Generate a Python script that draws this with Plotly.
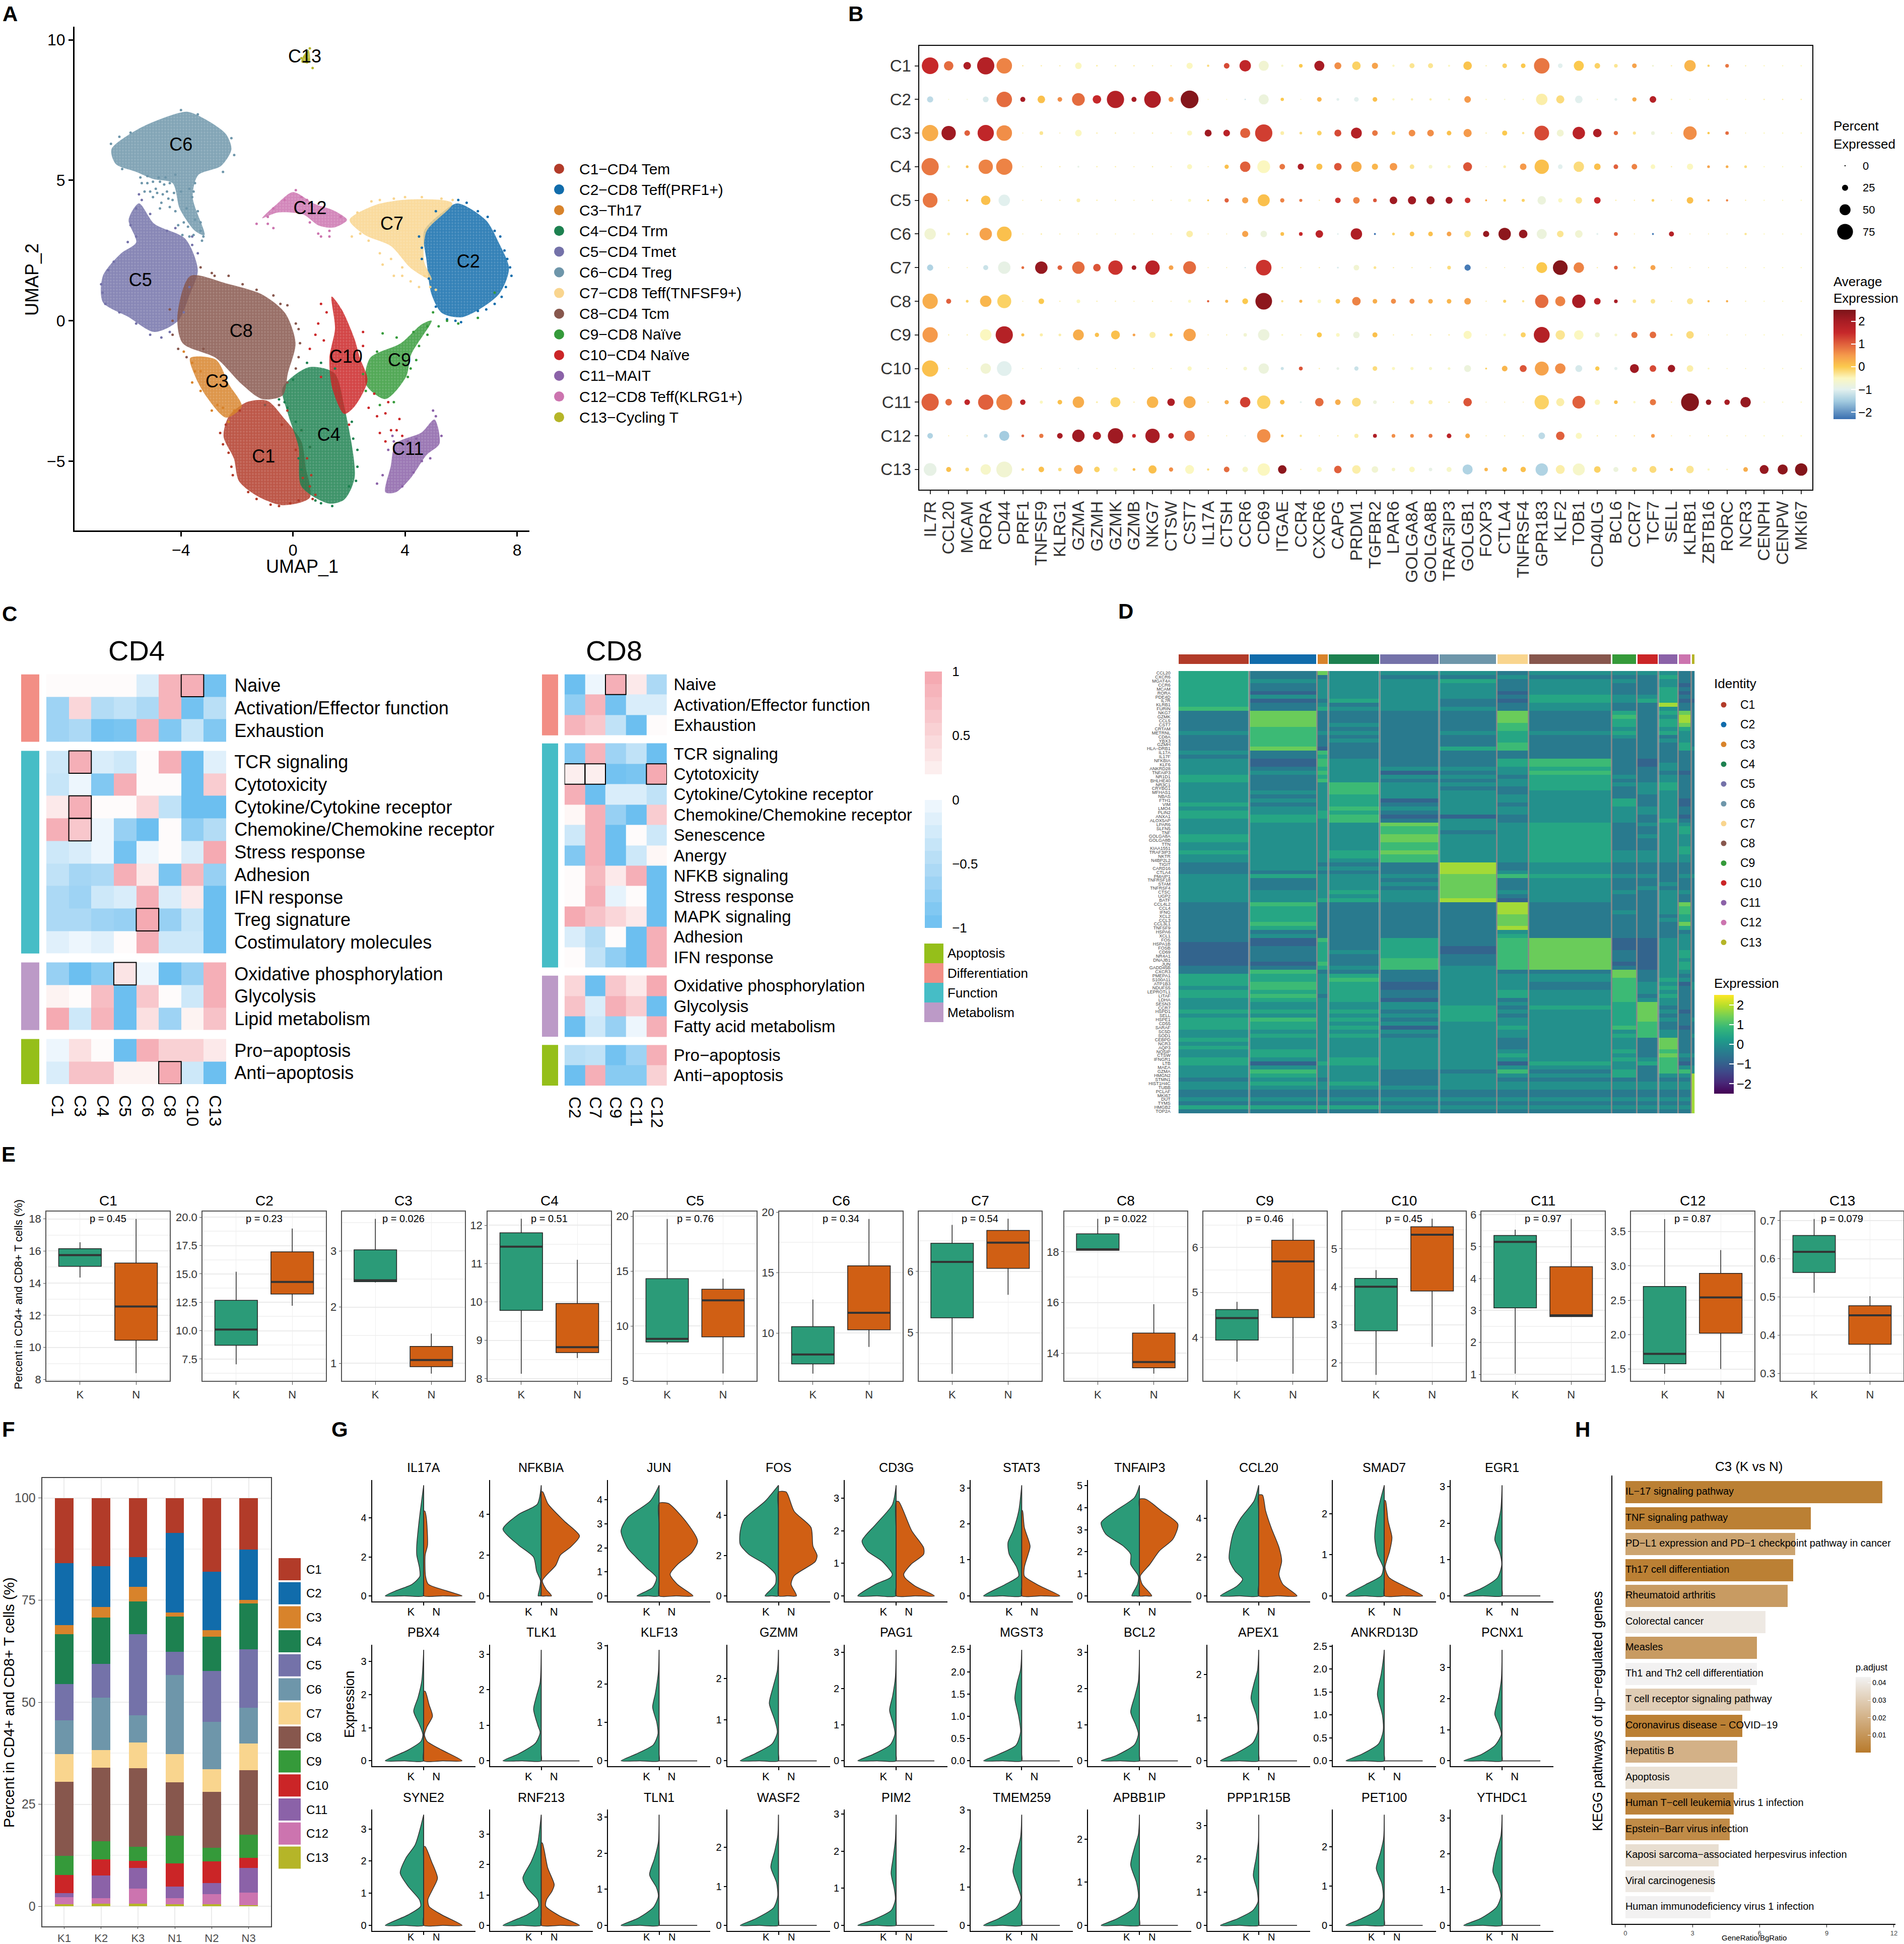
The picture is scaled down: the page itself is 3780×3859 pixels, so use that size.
import plotly.graph_objects as go
import numpy as np

W, H = 3780, 3859
FONT = "Liberation Sans"

# ---------- shared ----------
CLUSTERS = ["C%d" % i for i in range(1, 14)]
CL_COLORS = ["#B23B29", "#116CAB", "#D8832B", "#1D8150", "#7472A9", "#6E96AA", "#F9D58E",
             "#87574D", "#359A3A", "#CB2527", "#8B62A8", "#CC74AF", "#B5B528"]
CL_NAMES = ["C1−CD4 Tem", "C2−CD8 Teff(PRF1+)", "C3−Th17", "C4−CD4 Trm", "C5−CD4 Tmet", "C6−CD4 Treg",
            "C7−CD8 Teff(TNFSF9+)", "C8−CD4 Tcm", "C9−CD8 Naïve", "C10−CD4 Naïve", "C11−MAIT",
            "C12−CD8 Teff(KLRG1+)", "C13−Cycling T"]

# ---------- A : UMAP ----------
UMAP_OUTLINES = {
 "C6": [(-6.48,6.11),(-5.5,6.84),(-4.4,7.3),(-3.76,7.44),(-3.12,7.17),(-2.39,6.64),(-2.2,6.1),(-2.57,5.51),(-3.39,5.18),(-3.58,4.38),(-3.16,3.05),(-3.49,3.19),(-4.04,3.98),(-4.3,4.9),(-5.0,5.05),(-5.6,5.3),(-6.33,5.58)],
 "C5": [(-6.79,1.59),(-6.15,2.39),(-5.6,2.79),(-5.87,3.59),(-5.5,4.18),(-4.95,3.45),(-3.85,2.92),(-3.4,1.8),(-3.7,.9),(-4.1,0),(-4.95,-.4),(-5.87,.13),(-6.79,.66)],
 "C8": [(-3.67,1.59),(-2.39,1.33),(-1.1,.93),(-.28,.27),(.09,-.8),(-.18,-1.86),(-.37,-2.66),(-1.1,-2.79),(-1.83,-2.26),(-2.75,-1.33),(-3.94,-.8),(-4.13,.13)],
 "C3": [(-3.67,-1.33),(-2.75,-1.39),(-2.29,-2.26),(-1.83,-3.05),(-2.39,-3.45),(-3.12,-2.66),(-3.49,-1.99)],
 "C1": [(-2.29,-3.4),(-1.65,-2.9),(-.92,-2.85),(-.3,-3.5),(.3,-4.3),(.45,-5.2),(.6,-6.3),(-.37,-6.57),(-1.28,-6.24),(-1.93,-5.71),(-2.11,-4.91),(-2.48,-4.12)],
 "C4": [(-.37,-2.39),(.55,-1.66),(1.47,-1.86),(1.83,-3.05),(2.2,-5.58),(1.83,-6.37),(1.28,-6.51),(.3,-5.9),(.2,-4.5),(-.18,-3.32)],
 "C10": [(1.38,.86),(1.74,.4),(2.2,-.66),(2.39,-1.33),(2.66,-2.12),(2.2,-3.05),(1.83,-3.32),(1.4,-2.4),(1.3,-1.33),(1.5,-.27)],
 "C9": [(4.95,0),(4.22,-1.2),(4.04,-1.99),(3.3,-2.79),(2.6,-2.26),(2.75,-1.33),(3.85,-.8),(4.59,-.13)],
 "C11": [(5.05,-3.52),(5.23,-4.38),(4.77,-4.78),(4.22,-5.58),(3.67,-6.11),(3.3,-6.11),(3.49,-5.18),(3.67,-4.38),(4.59,-3.98)],
 "C7": [(2.02,3.59),(2.94,4.12),(4.22,4.32),(5.69,4.18),(4.77,3.19),(4.68,2.12),(4.95,1.46),(4.22,1.86),(3.49,2.66),(2.57,3.05)],
 "C2": [(5.87,4.18),(6.88,3.59),(7.34,2.79),(7.71,1.86),(7.34,.93),(6.06,.13),(5.32,.27),(4.95,.93),(4.77,2.12),(4.68,3.19),(5.32,3.85)],
 "C12": [(-1.1,3.65),(-.55,4.18),(0,4.58),(.73,4.18),(1.47,3.92),(1.93,3.59),(1.47,3.32),(.92,3.39),(.37,3.78),(-.55,3.85)],
 "C13": [(.3,9.2),(.38,9.45),(.55,9.65),(.6,9.2)],
}
UMAP_POINTS = {
 "C1": [(-.4,-3.7),(.1,-4.6),(.35,-5.6),(.6,-5.9),(-2.6,-4.0),(-2.2,-5.2),(-1.6,-6.1),(-.8,-6.55),(.2,-6.4),(.8,-6.2),(.5,-4.9),(-1.9,-3.2),(-2.5,-4.4),(-2.3,-4.7),(-2.15,-5.5),(-1.3,-6.35),(-.5,-6.6),(-.1,-6.5),(.7,-6.35),(.65,-5.5),(.6,-4.5),(.3,-3.9),(-2.4,-3.7),(-.2,-3.2)],
 "C2": [(5.9,4.3),(6.6,3.9),(7.2,3.2),(7.55,2.5),(7.75,1.9),(7.6,1.2),(7.2,.6),(6.6,.35),(6,-.05),(5.5,.05),(4.6,2.6),(4.5,3.0),(5.1,3.9),(6.2,4.2),(6.95,3.7),(7.4,3.0),(7.8,1.6),(7.45,.85),(6.9,.4),(5.8,.0),(5.1,.5),(4.85,1.5),(4.6,2.2),(7.65,2.2)],
 "C3": [(-3.9,-1.1),(-3.6,-1.5),(-3.3,-1.8),(-2.5,-3.1),(-2.3,-3.6),(-2.7,-3.0),(-3.3,-2.5),(-3.6,-2.2),(-3.5,-1.8),(-2.9,-3.2),(-2.1,-3.2)],
 "C4": [(.0,-2.1),(-.3,-2.9),(.1,-3.6),(.5,-1.5),(1.0,-1.5),(-.2,-3.1),(.3,-5.3),(.8,-6.4),(2.3,-5.2),(2.3,-4.6),(2.1,-3.6),(.6,-4.5),(.3,-3.9),(2.0,-5.9),(-.5,-2.8),(1.5,-1.7),(2.25,-5.7),(1.4,-6.6),(1.0,-6.5),(2.15,-4.2),(.2,-4.9)],
 "C5": [(-5.5,4.5),(-5.6,4.0),(-5.1,3.8),(-4.5,3.2),(-3.6,2.7),(-3.4,2.4),(-3.7,1.2),(-6.8,1.0),(-6.4,2.1),(-5.1,-.5),(-4.7,-.6),(-4.4,-.4),(-5.6,3.0),(-3.6,3.0),(-5.4,4.3),(-5.8,3.4),(-5.9,2.8),(-6.6,1.8),(-6.85,1.3),(-6.7,.6),(-6.2,.3),(-5.6,-.1),(-3.9,.3),(-4.2,3.3)],
 "C6": [(-5.1,4.6),(-4.8,5.1),(-4.2,5.2),(-4,4.6),(-3.8,4),(-3.5,3.6),(-3.3,3.2),(-3.2,3),(-5.4,4.9),(-4.7,4.2),(-4.4,4.9),(-3.6,4.4),(-3.3,3.5),(-4.9,4.7),(-4.5,4.6),(-5.2,4.9),(-4.6,4.85),(-4.3,4.3),(-5.0,4.4),(-5.3,4.6),(-4.1,3.4),(-3.9,3.5),(-3.7,3.0),(-6.5,6.3),(-6.2,6.55),(-5.8,6.7),(-2.2,6.5),(-2.1,5.9),(-2.5,5.3),(-4.0,7.5),(-3.4,7.35),(-6.1,5.4),
        (-5.45,5.1),(-5.2,5.15),(-5.0,4.95),(-4.75,4.95),(-4.55,5.1),(-4.85,4.55),(-4.65,4.5),(-4.45,4.35),(-4.25,4.55),(-4.2,3.9),(-4.4,4.05),(-4.75,4.0),(-3.95,3.05),(-3.75,3.35),(-3.55,3.05),(-3.7,4.7),(-3.5,4.9),(-3.55,4.6),(-3.4,3.9),(-3.25,2.85)],
 "C7": [(2.3,3.85),(2.8,4.25),(3.6,4.35),(4.6,4.4),(5.3,4.35),(5.7,4.3),(2.1,3.0),(2.7,2.85),(3.1,2.4),(3.6,1.6),(3.9,1.6),(4.5,1.2),(4.9,1.2),(5.1,1.1),(3.2,2.0),(3.5,2.2),(3.9,1.9),(4.2,1.4),(2.4,3.1),(4.0,4.4),(3.1,4.3),(4.7,1.6)],
 "C8": [(-3.3,1.9),(-2.9,1.7),(-2.3,1.6),(-1.8,1.3),(-.7,.9),(-.2,.55),(.2,-.3),(.2,-1.3),(-4.3,-.5),(-4.1,-1.0),(-3.8,-1.3),(-.2,-2.2),(-.5,-3.0),(-1.0,-3.0),(-4.4,.4),(-2.8,1.6),(-1.3,1.1),(-.45,.6),(.1,-.1),(.25,-.8),(.1,-1.7),(-3.2,-1.0),(-4.3,.0)],
 "C9": [(5.0,.3),(5.5,.0),(4.8,-.5),(3.2,-.45),(4.5,-.9),(4.8,-.2),(4.1,-2.0),(3.6,-2.9),(2.5,-1.9),(2.6,-2.5),(3.1,-3.0),(5.9,-.1),(6.6,.1),(7.2,1.0),(4.3,-.4),(3.7,-.6),(4.4,-1.4),(4.2,-1.7),(3.0,-1.1),(5.2,-.2)],
 "C10": [(1.0,.6),(.9,-.1),(.6,-1.0),(1.0,-2.0),(.8,-.5),(2.5,-.9),(2.9,-2.6),(3.3,-3.3),(3.5,-3.9),(3.1,-4.0),(3.8,-3.5),(3.4,-2.9),(2.7,-3.1),(2.0,-3.7),(1.2,.3),(1.1,-.7),(2.5,-.4),(3.0,-3.4),(3.3,-4.3),(3.7,-3.9),(3.9,-4.1)],
 "C11": [(5.1,-3.4),(5.3,-4.1),(4.9,-4.9),(4.4,-4.2),(3.0,-5.8),(3.2,-5.5),(3.6,-4.3),(4.1,-4.3),(3.4,-4.6),(3.55,-4.1),(4.6,-5.0),(4.3,-5.4),(3.9,-5.9),(5.0,-3.2)],
 "C12": [(-1.3,3.45),(-.9,3.7),(-.3,4.3),(.1,4.65),(.3,4.4),(1.0,3.0),(1.3,3.0),(.9,3.1),(-.7,3.3),(-.9,3.45),(-.7,4.0),(.5,4.3),(1.1,4.05),(1.7,3.7),(1.3,3.2),(.6,3.5)],
 "C13": [(.4,9.4),(.5,9.55),(.6,9.7),(.7,9.0),(.35,9.25),(.55,9.3),(.45,9.45),(.3,9.35),(.5,9.2)],
}
UMAP_LABELS = {"C6":(-4.0,6.21),"C5":(-5.45,1.39),"C8":(-1.85,-.42),"C3":(-2.71,-2.22),"C1":(-1.05,-4.88),"C4":(1.28,-4.12),
               "C10":(1.89,-1.33),"C9":(3.8,-1.46),"C11":(4.1,-4.62),"C2":(6.26,2.06),"C7":(3.53,3.4),"C12":(.61,3.96),"C13":(.42,9.36)}

# ---------- B : dot plot ----------
B_GENES = ["IL7R","CCL20","MCAM","RORA","CD44","PRF1","TNFSF9","KLRG1","GZMA","GZMH","GZMK","GZMB","NKG7","CTSW","CST7","IL17A","CTSH","CCR6","CD69","ITGAE","CCR4","CXCR6","CAPG","PRDM1","TGFBR2","LPAR6","GOLGA8A","GOLGA8B","TRAF3IP3","GOLGB1","FOXP3","CTLA4","TNFRSF4","GPR183","KLF2","TOB1","CD40LG","BCL6","CCR7","TCF7","SELL","KLRB1","ZBTB16","RORC","NCR3","CENPH","CENPW","MKI67"]
B_PCT = [
 [82,45,35,85,76, 3,3,3,30,5, 4,4,3,3,28, 8,25,55,48,8, 15,48,32,40,28, 8,22,22,7,40, 3,20,20,76,20, 48,25,15,20,6, 3,55,8,15,3, 3,3,3],
 [28,2,2,26,76, 22,35,20,62,40, 85,22,82,22,88, 2,2,3,48,13, 2,20,10,20,20, 8,8,8,6,30, 3,3,3,55,38, 35,3,10,18,30, 4,2,2,2,2, 3,3,3],
 [80,70,25,80,76, 2,15,2,30,3, 3,2,3,2,22, 32,30,48,85,15, 10,20,32,52,25, 15,30,30,20,38, 3,22,8,72,32, 60,40,18,12,15, 3,65,8,14,2, 3,3,3],
 [85,10,10,70,80, 2,3,3,6,3, 3,2,3,2,22, 2,18,50,62,25, 28,28,35,50,28, 35,20,15,12,42, 2,10,30,70,20, 50,30,20,25,20, 3,28,10,10,10, 3,3,3],
 [72,5,8,45,55, 2,3,3,15,3, 3,2,3,2,12, 6,18,28,58,18, 12,3,25,30,15, 35,38,38,32,25, 6,10,12,40,18, 30,30,3,3,10, 2,30,8,8,3, 3,3,3],
 [55,10,8,60,72, 2,4,3,2,2, 2,2,2,2,30, 2,2,28,30,15, 15,35,5,55,6, 10,20,20,20,30, 28,60,40,48,30, 35,6,16,2,6, 22,2,2,2,8, 3,3,3],
 [28,2,2,22,60, 10,60,20,60,35, 70,20,70,20,62, 2,2,3,76,4, 3,3,5,25,10, 3,3,3,15,28, 2,2,2,52,72, 50,3,15,8,22, 3,2,2,2,2, 3,3,3],
 [75,22,10,55,68, 2,25,3,15,3, 3,2,3,2,12, 8,12,26,82,8, 12,15,20,40,20, 22,22,20,20,30, 3,12,8,65,48, 65,30,15,14,20, 3,28,8,8,3, 3,3,3],
 [75,3,3,55,85, 12,12,10,52,18, 42,10,28,12,60, 2,3,14,55,6, 3,22,15,30,22, 3,4,4,4,38, 2,10,22,78,45, 45,22,10,28,30, 8,35,2,2,2, 3,3,3],
 [80,3,2,50,72, 2,2,2,3,2, 2,2,2,2,18, 2,2,15,50,12, 16,3,10,18,20, 12,12,12,10,32, 6,25,32,68,50, 32,18,12,42,30, 34,30,6,2,2, 2,3,3],
 [85,30,25,75,78, 24,12,20,55,6, 48,3,55,35,58, 3,18,50,65,20, 6,40,25,42,15, 3,18,18,4,40, 2,2,2,70,38, 62,24,15,8,28, 3,88,24,24,50, 3,3,3],
 [25,2,2,15,48, 10,18,25,60,38, 75,15,70,25,50, 2,2,3,65,10, 8,2,3,18,16, 15,15,16,20,20, 2,3,3,30,40, 28,3,3,3,15, 2,2,2,2,2, 3,3,3],
 [62,22,15,50,78, 10,25,14,42,25, 18,10,38,18,42, 8,25,25,60,40, 3,22,35,40,30, 14,25,14,22,48, 14,20,24,60,42, 58,30,22,22,32, 12,35,8,3,20, 42,48,60],
]
B_EXP = [
 [1.5,.9,1.9,1.8,.7, -.3,-.4,-.4,-.5,-.4, -.4,-.4,-.4,-.4,-.5, -.2,1.2,1.6,-.7,-.6, 0,2,.6,-.1,.4, -.5,-.3,-.3,-.5,.05, -.4,-.1,0,.8,-1, 0,-.1,-.3,.4,-.7, -.4,.2,-.1,.8,-.4, -.5,-.5,-.5],
 [-1.3,-.6,-.6,-1.1,.9, 2,.1,.6,.9,1.5, 1.8,2,1.9,.5,2.4, -.5,-.5,-1.2,-.8,0, -.5,.2,-1,-1,.1, -.5,-.4,-.4,-.6,.5, -.5,-.6,-.5,-.4,-.2, -1,-.5,-1,.3,1.8, -.4,-.5,-.5,-.5,-.5, -.4,-.4,-.4],
 [.3,2.1,1,1.6,.6, -.4,-.3,-.4,-.5,-.4, -.4,-.4,-.4,-.4,-.5, 2.1,1.7,1,1.3,-.4, -.2,-.1,1.2,1.8,.8, -.1,.6,.6,.1,.5, -.4,0,-.3,1.2,-.7, 1.7,1.9,.9,-.3,-.8, -.4,.6,0,.9,-.4, -.5,-.5,-.5],
 [.8,-.5,.1,.7,.7, -.4,-.4,-.4,-.9,-.4, -.4,-.4,-.4,-.4,-.5, -.4,.1,1,-.5,.8, 1.9,.1,1.1,.3,.2, .5,-.3,-.6,-.5,1.1, -.4,-.4,.5,.1,-1, -.2,.1,1,.7,-.5, -.4,-.5,.4,.3,-.2, -.5,-.5,-.5],
 [.8,-.4,.1,.1,-1, -.4,-.4,-.4,-.4,-.4, -.4,-.4,-.4,-.4,-.5, 0,1,.4,.1,.7, .8,-.4,1.4,.7,1.1, 2.1,2.1,2.2,2.1,1.4, .2,-.1,-.1,-.8,-.5, -.3,1.5,-.4,-.4,-.1, -.4,.1,.3,.7,-.4, -.5,-.5,-.5],
 [-.7,-.4,-.2,.4,.1, -.4,-.4,-.4,-.4,-.4, -.4,-.4,-.4,-.4,-.4, -.4,-.4,.4,-.8,.1, 1.5,1.7,-1,1.9,-2.3, -.1,.1,.1,.4,-.3, 2.2,2.3,2.2,-.8,-.3, -.7,-1,1,-.4,-2.2, 1.8,-.4,-.4,-.4,-.3, -.5,-.5,-.5],
 [-1.4,-.4,-.4,-1.2,-.9, .9,2.2,1,.9,1.1, 1.4,2,1.7,.4,.9, -.4,-.4,-1.2,1.4,-.4, -.4,-.4,-1.1,-.7,-.3, -.4,-.4,-.4,-.2,-2.2, -.4,-.4,-.4,0,2.4, .7,-.4,1,-.3,.4, -.4,-.4,-.4,-.4,-.4, -.5,-.5,-.5],
 [.3,1,-.1,.2,-.1, -.4,0,-.4,-.5,-.4, -.4,-.4,-.4,-.4,-.5, 1,.2,0,2.3,-.3, .2,-.5,.1,.7,.3, .6,.6,.3,.2,.4, -.4,-.1,-.3,.9,.7, 2,1.7,2,-.3,-.3, -.4,-.3,.2,.3,-.4, -.5,-.5,-.5],
 [.5,-.4,-.4,-.5,1.8, .1,-.4,-.4,.3,.1, .1,.4,-.4,0,.4, -.4,-.4,-.7,-.8,-.5, -.4,0,-.5,-.8,.1, -.4,-.4,-.4,-.4,-.5, -.4,-.5,-.1,1.8,-.3, -.5,-.7,-.6,.8,.9, -.3,-.2,-.4,-.4,-.4, -.5,-.5,-.5],
 [.1,-.4,-.4,-.7,-1, -.4,-.4,-.4,-1,-.4, -.4,-.4,-.4,-.4,-.5, -.4,-.4,-.6,-.8,-1.2, 1.1,-.4,-.9,-1.2,-.2, -.5,-.5,-.6,-.6,-.8, -.1,.2,1.1,.4,.6, -1.1,0,-1,2.1,1.2, 2.1,-.4,-.5,-.4,-.4, -.5,-.5,-.5],
 [1,.9,1.6,1,.7, 1.7,-.5,.1,.3,-.4, -.1,-.4,.2,1.9,.3, -.4,.3,1.3,-.1,.1, -1,.9,.3,-.2,-.8, -.4,-.4,-.4,-.4,1.1, -.4,-.4,-.4,-.1,-.4, 1,-.5,.1,-.5,.8, -.4,2.4,2.2,2,2.2, -.5,-.5,-.5],
 [-1.4,-.4,-.4,-1.3,-1.5, 1,.8,2,2.1,1.9, 2.1,1.5,2,1.8,.9, -.4,-.4,-1,.6,.1, -.3,-.4,-.4,-.4,1.9, .6,.6,.8,1.7,.3, -.4,-.4,-.4,-1.3,1, -.5,-.4,-.4,-.4,.5, -.4,-.4,-.4,-.4,-.4, -.5,-.5,-.5],
 [-.9,.1,-.2,-.6,-.7, -.2,.1,-.2,.4,-.1, -.5,.1,.1,.6,-.5, -.2,.9,-.6,-.5,2.3, -.4,-.5,1,-.4,-.7, -.6,-.5,-.9,-.6,-1.4, .2,.1,.1,-1.4,-.4, -.6,-.1,-.8,-.3,-.2, .1,-.3,-.5,-.4,.3, 2.2,2.3,2.4],
]
B_LEGEND_PCT = [0, 25, 50, 75]
B_STOPS = [(-2.3,"#3a6fb0"),(-1.5,"#a4cce0"),(-1,"#e2f0ee"),(-.5,"#fbf7c0"),(0,"#fbc94e"),(.5,"#f59a4b"),(1,"#e0603c"),(1.5,"#c6282a"),(2,"#a81c24"),(2.5,"#7b1419")]

# ---------- C : pathway heat maps ----------
CD4_COLS = ["C1","C3","C4","C5","C6","C8","C10","C13"]
CD4_ROWS = ["Naive","Activation/Effector function","Exhaustion","TCR signaling","Cytotoxicity","Cytokine/Cytokine receptor","Chemokine/Chemokine receptor","Stress response","Adhesion","IFN response","Treg signature","Costimulatory molecules","Oxidative phosphorylation","Glycolysis","Lipid metabolism","Pro−apoptosis","Anti−apoptosis"]
CD4_GROUP_SIZES = [3, 9, 3, 2]
CD4_Z = [[.1,.1,.1,.1,-.2,.85,.9,-.95],[-.65,.5,-.5,-.4,-.55,.85,-.95,-.45],[-.65,-.55,-.95,-.9,.9,-.85,-.35,-.85],
 [-.3,.9,-.2,-.3,.1,.9,-1,-.15],[-.35,-.05,-.85,.9,.1,.1,-1,.6],[.3,.9,.1,.1,.5,-.4,-1,-1],[.9,.65,-.05,-.7,-1,.1,-.75,-.5],
 [-.3,-.2,-.05,-.95,-.05,.1,-.2,.95],[-.4,-.6,-.55,.9,.3,-.9,.8,-.7],[-.55,-.65,-.3,-.2,.9,-.2,.3,-1],[-.55,-.55,-.65,-.7,.95,-.7,-.35,-1],
 [-.15,-.05,-.15,.1,.9,-.3,-.3,-1],[-.7,-1,-.8,.35,-.05,-1,-.7,.9],[.2,.1,.75,-1,.65,.1,-.3,.9],[.95,-.3,.85,-1,.4,-.65,.2,.7],
 [-.05,.4,.1,-1,.9,.55,.55,.3],[-.2,.7,.7,.2,.2,.95,-.3,-1]]
CD4_BOXES = [(0,6),(3,1),(5,1),(6,1),(10,4),(12,3),(16,5)]
CD8_COLS = ["C2","C7","C9","C11","C12"]
CD8_ROWS = ["Naive","Activation/Effector function","Exhaustion","TCR signaling","Cytotoxicity","Cytokine/Cytokine receptor","Chemokine/Chemokine receptor","Senescence","Anergy","NFKB signaling","Stress response","MAPK signaling","Adhesion","IFN response","Oxidative phosphorylation","Glycolysis","Fatty acid metabolism","Pro−apoptosis","Anti−apoptosis"]
CD8_GROUP_SIZES = [3, 11, 3, 2]
CD8_Z = [[-1,-.05,.9,.3,-.55],[-.75,.85,-.95,-.2,-.2],[.85,.65,-.4,-1,.1],[-.85,.85,-.65,-.4,-1],[.25,.25,-.95,-.9,.95],[.9,-1,-.2,-.2,-.4],
 [.15,.9,-.7,-1,.6],[-.3,.9,-1,.1,-.3],[-.85,.9,-1,-.3,.15],[.1,.8,.3,.9,-1],[.1,.9,-.1,.1,-1],[.95,.7,.5,.3,-1],[-.2,-.5,.1,-1,.9],[.1,-.4,-.75,-1,.9],
 [.5,-1,.65,.3,.95],[.7,-.2,.9,.6,-1],[-1,-.3,-.7,-.05,.9],[-.45,-.4,-.95,-.65,.9],[-1,.9,-.8,-.8,.55]]
CD8_BOXES = [(0,2),(4,0),(4,1),(4,4)]
GROUP_NAMES = ["Apoptosis","Differentiation","Function","Metabolism"]
GROUP_SWATCH = ["#95BF1A","#F28E85","#46BDC6","#BC9AC7"]
SIDE_COLORS = ["#F28E85","#46BDC6","#BC9AC7","#95BF1A"]
C_SCALE = [[0,"#6cbff0"],[.25,"#b3dcf5"],[.5,"#f3f9fe"],[.525,"#ffffff"],[.6,"#fdf3f2"],[1,"#f4a5ae"]]
C_LEGEND_VALUES = [.95,.85,.75,.65,.55,.45,.35,.25,None,None,-.05,-.15,-.25,-.35,-.45,-.55,-.65,-.75,-.85,-.95]

# ---------- D : expression heat map ----------
D_CELLS = [168,159,24,120,139,135,73,196,57,48,45,28,7]
D_GENES = ["CCL20","CXCR6","MGAT4A","CCR6","MCAM","RORA","PDE4D","IL7R","KLRB1","FURIN","NKG7","GZMK","CCL5","CST7","CRTAM","METRNL","CD8A","YBX3","GZMH","HLA−DRB1",
 "IL17A","IL17F","NFKBIA","KLF6","ANKRD28","TNFAIP3","NR1D1","BHLHE40","NR3C1","CRYBG1","MFHAS1","NBAS","FTH1","VIM","LMO4","PLIN2","ANXA1","ALOX5AP",
 "LPAR6","SLFN5","TNF","GOLGA8A","GOLGA8B","TTN","KIAA1551","TRAF3IP3","NKTR","N4BP2L2","TIGIT","CARD16","CTLA4","PMAIP1","TNFRSF18","STAM","TNFRSF4","CTSC","UGP2","BATF",
 "CCL4L2","CCL4","IFNG","XCL2","CCL3","CCL3L1","TNFSF9","HSPA6","XCL1","FOS","HSPA1B","FOSB","CD69","NR4A1","DNAJB1","JUN","GADD45B",
 "CXCR3","PMEPA1","S100A11","ATP1B3","NDUFS5","LEPROTL1","LITAF","LDHA","SESN3","CCR7","HSPD1","SELL","HSPE1","CD55","SARAF","SC5D","SOD1",
 "CEBPD","NCR3","AQP3","NOSIP","CTSW","IFNGR1","LTB","MAEA","GZMA","HMGN2","STMN1","HIST1H4C","TUBB","PCLAF","MKI67","DUT","TYMS","HMGB2","TOP2A"]
# one digit per cluster: level 0..9 means expression -2.25 + 0.45*level
D_LEVELS = """6485554555544 6445445444644 6555564554544 6455554544534 6455554544644 6355553544634 6555554655644 6346543656633 6454544544944 7465554544544
4844448464684 4844448474594 4844448464694 4845447464684 4744447454564 5755456564654 4744446454454 4745446444554 4744447444464 4834467444465
5474444444444 4464444444444 5375446743444 5375446743544 5465555644544 5575345744434 6465554654544 6475445644544
5457555655644 5457544645644 5557554545544 5456555544544 5556355564534 6456454564534 5557555555544 6566455555544 6667334554534 5657454554644
5555855645554 5555755644564 5555745644564 6555855645554 6555855644554 5555755644554 5555755644564 6556855655564 5556755655554 5555755655554
4544494544444 4555494544444 4444495544444 5655587655455 5455484544444 5455584544544 5455484545444 5556585554554 5555584544544 5566593544544
4744449444584 4644449444574 4644449454574 4644448444464 4644448444564 4744448444484 4644449444464 4444445444444 4544446444454
4374647833554 3364647833554 3464637833554 3465637843564 3464647843564 3464747843554 3374747833564 4465757843564
4744454484554 6656455584544 6657455574654 6756355475535 5756355475645 6656456575544 6746456574644 5656354575544
5555555568544 5555564668444 6656465568534 5555564568444 6756465568545 6655555567444 6656356577434 5555555557544 5656455567545
6555554554844 5555554554844 6555554554844 5655555564744 5655556554855 6556555565744 6366553656734 5555555554755 5755447464775
5655455564559 4545454444449 5656455555559 5555555555559 4444444444449 4444444444449 5555555555559 4444444444449 6666555555559 4444444444449"""

# ---------- E : box plots ----------
E_P = ["0.45","0.23","0.026","0.51","0.76","0.34","0.54","0.022","0.46","0.45","0.97","0.87","0.079"]
E_TICKS = [[8,10,12,14,16,18],[7.5,10,12.5,15,17.5,20],[1,2,3],[8,9,10,11,12],[5,10,15,20],[10,15,20],[5,6],[14,16,18],[4,5,6],[2,3,4,5],[1,2,3,4,5,6],[1.5,2,2.5,3,3.5],[.3,.4,.5,.6,.7]]
E_LABELS = [["8","10","12","14","16","18"],["7.5","10.0","12.5","15.0","17.5","20.0"],["1","2","3"],["8","9","10","11","12"],["5","10","15","20"],["10","15","20"],["5","6"],["14","16","18"],["4","5","6"],["2","3","4","5"],["1","2","3","4","5","6"],["1.5","2.0","2.5","3.0","3.5"],["0.3","0.4","0.5","0.6","0.7"]]
E_YRANGE = [(7.91,18.46),(5.57,20.5),(.686,3.7),(7.94,12.356),(4.98,20.43),(6.02,20.06),(4.214,6.977),(12.9,19.59),(3.03,6.8),(1.52,5.98),(.79,6.1),(1.325,3.79),(.28,.7235)]
E_BOX_K = [(14.35,15.05,15.75,16.15,16.55),(7.04,8.72,10.1,12.68,15.2),(2.44,2.453,2.478,3.02,3.57),(8.13,9.78,11.44,11.8,12.17),(8.34,8.54,8.82,14.31,19.75),(6.63,7.43,8.22,10.52,12.77),(4.33,5.243,6.155,6.46,6.76),(18.06,18.06,18.1,18.71,19.3),(3.46,3.94,4.43,4.62,4.79),(1.68,2.84,4.0,4.22,4.44),(1.02,3.08,5.15,5.35,5.53),(1.43,1.576,1.72,2.7,3.68),(.511,.564,.618,.661,.704)]
E_BOX_N = [(8.4,10.45,12.55,15.25,18),(12.2,13.23,14.3,16.95,19),(.818,.94,1.06,1.3,1.53),(8.54,8.68,8.82,9.96,11.1),(5.66,9.0,12.33,13.34,14.31),(8.84,10.26,11.67,15.56,19.44),(5.62,6.05,6.47,6.67,6.86),(13.19,13.42,13.65,14.79,15.93),(3.19,4.44,5.69,6.16,6.64),(2.42,3.89,5.37,5.58,5.79),(2.81,2.81,2.85,4.37,5.87),(1.5,2.02,2.54,2.89,3.23),(.299,.376,.452,.477,.502)]
E_PANEL_X = [(92,337),(402,647),(678.5,923),(968,1213),(1258,1502),(1547,1792),(1823.6,2068),(2112.6,2357.4),(2389,2633.7),(2665,2910),(2941.4,3186),(3238,3483),(3535,3779)]
KN = ["K", "N"]
KN_COLORS = ["#2B9B78", "#D05F14"]

# ---------- F : stacked bars ----------
F_SAMPLES = ["K1","K2","K3","N1","N2","N3"]
F_VALUES = {
 "K1":[15.9,15.2,2.3,12.2,8.9,8.2,6.8,18.1,4.7,4.5,1.0,1.7,.5],
 "K2":[16.7,10,2.6,11.3,8.3,12.8,4.3,18.1,4.4,4,5.5,1.4,.6],
 "K3":[14.5,7.3,3.5,8.1,19.8,6.7,6.2,19.3,3.4,1.8,5.1,3.6,.7],
 "N1":[8.5,19.5,1,8.7,5.6,19.4,6.9,13.1,6.8,5.7,2.8,1.5,.5],
 "N2":[18.1,14.3,1.5,8.5,12.4,11.6,5.6,13.7,3.3,5.3,2.7,2.5,.5],
 "N3":[12.6,12.3,.9,11.2,14.3,8.8,6.5,15.9,5.6,2.5,6,3.1,.3],
}

# ---------- G : violins : gene -> ticks, K (y, width), N (y, width or None) ----------
G_ROWS = [["IL17A","NFKBIA","JUN","FOS","CD3G","STAT3","TNFAIP3","CCL20","SMAD7","EGR1"],
          ["PBX4","TLK1","KLF13","GZMM","PAG1","MGST3","BCL2","APEX1","ANKRD13D","PCNX1"],
          ["SYNE2","RNF213","TLN1","WASF2","PIM2","TMEM259","APBB1IP","PPP1R15B","PET100","YTHDC1"]]
G_TICKS = {"IL17A":[0,2,4],"NFKBIA":[0,2,4],"JUN":[0,1,2,3,4],"FOS":[0,2,4],"CD3G":[0,1,2,3],"STAT3":[0,1,2,3],"TNFAIP3":[0,1,2,3,4,5],"CCL20":[0,2,4],"SMAD7":[0,1,2],"EGR1":[0,1,2,3],
 "PBX4":[0,1,2,3],"TLK1":[0,1,2,3],"KLF13":[0,1,2,3],"GZMM":[0,1,2],"PAG1":[0,1,2,3],"MGST3":[0,.5,1,1.5,2,2.5],"BCL2":[0,1,2,3],"APEX1":[0,1,2],"ANKRD13D":[0,.5,1,1.5,2,2.5],"PCNX1":[0,1,2,3],
 "SYNE2":[0,1,2,3],"RNF213":[0,1,2,3],"TLN1":[0,1,2,3],"WASF2":[0,1,2],"PIM2":[0,1,2,3],"TMEM259":[0,1,2,3],"APBB1IP":[0,1,2],"PPP1R15B":[0,1,2,3],"PET100":[0,1,2],"YTHDC1":[0,1,2,3]}
G_K = {
 "IL17A":[(0,1),(.26,.73),(.6,.3),(1.0,.1),(1.45,.11),(2.1,.18),(2.6,.18),(4,.11),(5.68,0)],
 "NFKBIA":[(0,.08),(.3,.05),(.75,.02),(1.2,.12),(1.9,.2),(2.5,.6),(3.27,1.0),(4,.59),(4.5,.1),(5.42,0)],
 "JUN":[(0,.58),(.35,.17),(.76,.07),(1.18,.34),(1.6,.6),(2,.83),(2.7,1.0),(3.25,.83),(3.95,.23),(4.6,0)],
 "FOS":[(0,.35),(.58,.08),(1.07,.08),(1.57,.35),(2.07,.78),(2.56,1.0),(3.2,1.0),(3.8,.9),(4.7,.35),(5.49,0)],
 "CD3G":[(0,1),(.36,.53),(.56,.15),(.67,.1),(1.07,.37),(1.38,.75),(1.69,.89),(2.2,.53),(2.8,.1),(3.4,0)],
 "STAT3":[(0,1),(.32,.43),(.55,.08),(.79,.13),(1.16,.33),(1.48,.36),(1.8,.23),(2.35,.08),(3.07,0)],
 "TNFAIP3":[(0,.2),(.53,.05),(.9,.03),(1.43,.23),(1.89,.23),(2.27,.43),(2.8,.88),(3.32,1.0),(3.85,.63),(4.46,.13),(5.01,0)],
 "CCL20":[(0,1),(.5,.57),(.86,.42),(1.29,.62),(1.9,.77),(3.2,.67),(4,.47),(4.9,.12),(5.7,0)],
 "SMAD7":[(0,1),(.28,.48),(.49,.08),(.69,.03),(1.01,.18),(1.42,.25),(1.9,.2),(2.3,.11),(2.69,0)],
 "EGR1":[(0,1),(.2,.55),(.5,.12),(.85,.01),(1.2,.06),(1.55,.19),(2,.1),(2.4,.03),(3.04,0)],
 "PBX4":[(0,1),(.33,.4),(.59,.07),(.79,.02),(1.09,.11),(1.5,.26),(1.9,.15),(2.41,.05),(3.35,0)],
 "TLK1":[(0,1),(.2,.59),(.5,.15),(.8,.03),(1.0,.09),(1.45,.2),(1.8,.13),(2.2,.03),(3.12,0)],
 "KLF13":[(0,1),(.18,.6),(.42,.15),(.7,.03),(1.0,.06),(1.4,.17),(1.75,.1),(2.3,.02),(2.89,0)],
 "GZMM":[(0,1),(.18,.6),(.42,.16),(.7,.03),(1.0,.1),(1.4,.24),(1.8,.14),(2.2,.03),(2.7,0)],
 "PAG1":[(0,1),(.18,.6),(.45,.15),(.75,.03),(1.05,.08),(1.4,.17),(1.8,.09),(2.3,.02),(3.07,0)],
 "MGST3":[(0,1),(.15,.6),(.35,.15),(.65,.03),(1.0,.08),(1.4,.18),(1.75,.12),(2.05,.03),(2.49,0)],
 "BCL2":[(0,1),(.15,.6),(.45,.13),(.75,.03),(1.0,.1),(1.35,.23),(1.8,.12),(2.2,.03),(3.07,0)],
 "APEX1":[(0,1),(.17,.6),(.42,.15),(.7,.02),(1.05,.06),(1.45,.2),(1.8,.12),(2.1,.03),(2.57,0)],
 "ANKRD13D":[(0,1),(.14,.6),(.37,.15),(.65,.03),(1.0,.05),(1.45,.18),(1.9,.08),(2.25,.02),(2.42,0)],
 "PCNX1":[(0,1),(.2,.55),(.5,.18),(.85,.02),(1.15,.08),(1.5,.19),(2,.1),(2.6,.02),(3.56,0)],
 "SYNE2":[(0,1),(.33,.4),(.59,.08),(.8,.11),(1.21,.4),(1.63,.61),(2.1,.46),(2.51,.22),(3.44,0)],
 "RNF213":[(0,1),(.35,.37),(.63,.07),(.85,.1),(1.23,.37),(1.56,.48),(2.1,.26),(2.66,.1),(3.64,0)],
 "TLN1":[(0,1),(.2,.55),(.5,.15),(.8,.02),(1.05,.07),(1.4,.25),(1.85,.12),(2.3,.02),(3.06,0)],
 "WASF2":[(0,1),(.17,.6),(.45,.13),(.75,.02),(1.1,.05),(1.5,.2),(1.9,.1),(2.3,.02),(2.84,0)],
 "PIM2":[(0,1),(.15,.6),(.4,.13),(.7,.02),(1,.05),(1.4,.13),(1.8,.08),(2.3,.02),(2.98,0)],
 "TMEM259":[(0,1),(.18,.6),(.45,.15),(.72,.02),(1,.1),(1.4,.23),(1.9,.13),(2.3,.03),(2.88,0)],
 "APBB1IP":[(0,1),(.15,.6),(.4,.15),(.65,.03),(1,.08),(1.4,.23),(1.8,.13),(2.1,.03),(2.56,0)],
 "PPP1R15B":[(0,1),(.2,.55),(.45,.15),(.7,.02),(1.05,.04),(1.5,.14),(2,.07),(2.5,.01),(3.32,0)],
 "PET100":[(0,1),(.17,.6),(.42,.14),(.7,.03),(1.05,.06),(1.45,.21),(1.85,.1),(2.2,.02),(2.81,0)],
 "YTHDC1":[(0,1),(.2,.55),(.5,.15),(.82,.03),(1.15,.1),(1.5,.24),(2,.16),(2.5,.03),(3.09,0)],
}
G_N = {
 "IL17A":[(0,1),(.26,.6),(.6,.12),(1.0,.05),(2.1,.04),(2.6,.1),(4,.07),(4.36,.03)],
 "NFKBIA":[(0,.27),(.35,.12),(.75,.03),(1.5,.38),(2,.5),(2.4,.77),(2.94,1),(3.67,.6),(4.5,.18),(5.1,.04)],
 "JUN":[(0,.89),(.48,.48),(.9,.29),(1.3,.48),(1.8,.86),(2.28,1.01),(3,.75),(3.85,.24)],
 "FOS":[(0,.47),(.58,.33),(1,.41),(1.7,.96),(2,1.01),(2.48,.9),(3.4,.85),(4.2,.41),(5.16,.2)],
 "CD3G":[(0,1),(.3,.5),(.56,.23),(.67,.2),(.97,.39),(1.28,.72),(1.48,.72),(2,.41),(2.9,.07)],
 "STAT3":[(0,1),(.28,.47),(.55,.07),(.8,.07),(1.16,.17),(1.38,.22),(1.9,.07),(2.37,.02)],
 "TNFAIP3":[(0,.32),(.53,.07),(.9,.02),(1.43,.27),(2.04,.52),(2.57,.87),(3.25,1.0),(3.85,.57),(4.38,.17)],
 "CCL20":[(0,1),(.6,.63),(1.1,.53),(1.8,.6),(2.5,.53),(3.5,.33),(4.4,.18),(5.2,.1)],
 "SMAD7":[(0,1),(.24,.52),(.45,.12),(.69,.02),(1.09,.14),(1.42,.2),(1.82,.1),(2.32,.03)],
 "PBX4":[(0,1),(.33,.47),(.59,.09),(.79,.02),(1.04,.09),(1.35,.23),(1.7,.14),(2.1,.04)],
 "SYNE2":[(0,1),(.33,.47),(.59,.14),(.8,.11),(1.16,.25),(1.47,.36),(2,.2),(2.45,.04)],
 "RNF213":[(0,1),(.3,.5),(.63,.12),(.85,.14),(1.12,.28),(1.34,.34),(1.89,.17),(2.71,.03)],
}

# ---------- H : KEGG bars ----------
H_TERMS = ["IL−17 signaling pathway","TNF signaling pathway","PD−L1 expression and PD−1 checkpoint pathway in cancer","Th17 cell differentiation","Rheumatoid arthritis","Colorectal cancer","Measles","Th1 and Th2 cell differentiation","T cell receptor signaling pathway","Coronavirus disease − COVID−19","Hepatitis B","Apoptosis","Human T−cell leukemia virus 1 infection","Epstein−Barr virus infection","Kaposi sarcoma−associated herpesvirus infection","Viral carcinogenesis","Human immunodeficiency virus 1 infection"]
H_RATIO = [11.49,8.29,7.58,7.5,7.26,6.27,5.87,5.87,5.58,5.22,5.0,5.0,4.85,4.67,4.17,3.97,3.81]
H_PADJ = [.002,.002,.015,.002,.012,.04,.012,.043,.03,.002,.02,.037,.003,.006,.036,.04,.043]

# ================= helpers =================
PX = lambda x: x / W
PY = lambda y: 1 - y / H
axes, traces, shapes, annos = {}, [], [], []
_n = [0]

def new_axes(x0, x1, y0, y1, xkw=None, ykw=None):
    _n[0] += 1
    n = _n[0]
    sx = "" if n == 1 else str(n)
    base = dict(showgrid=False, zeroline=False, showline=False, ticks="", showticklabels=False)
    xa = dict(base, domain=[PX(x0), PX(x1)], anchor="y" + sx)
    ya = dict(base, domain=[PY(y1), PY(y0)], anchor="x" + sx)
    xa.update(xkw or {})
    ya.update(ykw or {})
    axes["xaxis" + sx] = xa
    axes["yaxis" + sx] = ya
    return "x" + sx, "y" + sx

def T(x, y, s, size, anchor="left", color="black", angle=0, bold=False, v="middle"):
    annos.append(dict(x=PX(x), y=PY(y), xref="paper", yref="paper", text=("<b>%s</b>" % s) if bold else s,
                      showarrow=False, xanchor=anchor, yanchor=v, textangle=angle,
                      font=dict(size=size, color=color, family=FONT), borderpad=0, borderwidth=0))

def rect(x0, y0, x1, y1, color):
    shapes.append(dict(type="rect", xref="paper", yref="paper", x0=PX(x0), x1=PX(x1), y0=PY(y0), y1=PY(y1),
                       fillcolor=color, line=dict(width=0), layer="above"))

def dot(x, y, d, color):
    shapes.append(dict(type="circle", xref="paper", yref="paper", x0=PX(x - d/2), x1=PX(x + d/2),
                       y0=PY(y + d/2), y1=PY(y - d/2), fillcolor=color, line=dict(width=0), layer="above"))

def rgb_scale(stops):
    lo, hi = stops[0][0], stops[-1][0]
    return [[(v - lo) / (hi - lo), c] for v, c in stops]

def hex_alpha(c, a):
    return "rgba(%d,%d,%d,%.2f)" % (int(c[1:3], 16), int(c[3:5], 16), int(c[5:7], 16), a)

# ================= panel letters =================
for s, x, y in [("A",5,27),("B",1684,27),("C",4,1218),("D",2220,1213),("E",3,2291),("F",4,2837),("G",658,2837),("H",3127,2837)]:
    T(x, y, s, 42, bold=True)

# ================= A =================
xa, ya = new_axes(148, 1051, 53, 1052.5,
    dict(range=[-7.8, 8.44], showline=True, linecolor="black", linewidth=3, ticks="outside", ticklen=9, tickwidth=2.5,
         tickcolor="black", showticklabels=True, tickvals=[-4,0,4,8], tickfont=dict(size=32, color="black")),
    dict(range=[-7.46, 10.47], showline=True, linecolor="black", linewidth=3, ticks="outside", ticklen=9, tickwidth=2.5,
         tickcolor="black", showticklabels=True, tickvals=[-5,0,5,10], tickfont=dict(size=32, color="black")))
for name, col in zip(CLUSTERS, CL_COLORS):
    o = UMAP_OUTLINES[name]
    traces.append(go.Scatter(x=[p[0] for p in o] + [o[0][0]], y=[p[1] for p in o] + [o[0][1]], xaxis=xa, yaxis=ya,
        mode="lines", line=dict(width=0, shape="spline", smoothing=.8), fill="toself", fillcolor=col,
        fillpattern=dict(shape=".", size=6, solidity=.75, fgcolor=col, bgcolor=hex_alpha(col, .7)), hoverinfo="skip"))
for name, col in zip(CLUSTERS, CL_COLORS):
    p = UMAP_POINTS[name]
    traces.append(go.Scatter(x=[q[0] for q in p], y=[q[1] for q in p], xaxis=xa, yaxis=ya, mode="markers",
        marker=dict(size=5, color=col, line=dict(width=0))))
traces.append(go.Scatter(x=[UMAP_LABELS[c][0] for c in CLUSTERS], y=[UMAP_LABELS[c][1] for c in CLUSTERS], text=CLUSTERS,
    mode="text", textfont=dict(size=36, color="black", family=FONT), xaxis=xa, yaxis=ya))
T(600, 1124, "UMAP_1", 36, "center")
T(63, 555, "UMAP_2", 36, "center", angle=-90)
for i, (nm, col) in enumerate(zip(CL_NAMES, CL_COLORS)):
    yy = 335 + i * 41.1
    dot(1110, yy, 20, col)
    T(1150, yy, nm, 30)

# ================= B =================
xb, yb = new_axes(1824.5, 3598, 90.5, 972,
    dict(range=[-.6, 47.6], showline=True, mirror=True, linecolor="black", linewidth=2, ticks="outside", ticklen=7, tickwidth=2,
         tickcolor="#333", showticklabels=True, tickvals=list(range(48)), ticktext=B_GENES, tickangle=-90, tickfont=dict(size=34, color="#333")),
    dict(range=[12.6, -.6], showline=True, mirror=True, linecolor="black", linewidth=2, ticks="outside", ticklen=7, tickwidth=2,
         tickcolor="#333", showticklabels=True, tickvals=list(range(13)), ticktext=CLUSTERS, tickfont=dict(size=33, color="#333")))
bx, by, bs, bc = [], [], [], []
for r in range(13):
    for g in range(48):
        bx.append(g); by.append(r); bs.append(1.5 + .385 * B_PCT[r][g]); bc.append(B_EXP[r][g])
traces.append(go.Scatter(x=bx, y=by, xaxis=xb, yaxis=yb, mode="markers",
    marker=dict(size=bs, sizemode="diameter", opacity=1, color=bc, cmin=-2.3, cmax=2.5, colorscale=rgb_scale(B_STOPS), line=dict(width=0),
        showscale=True, colorbar=dict(x=PX(3640), xanchor="left", y=PY(832), yanchor="bottom", len=217, lenmode="pixels",
            thickness=44, thicknessmode="pixels", xpad=0, ypad=0, outlinewidth=0, tickvals=[-2,-1,0,1,2],
            ticks="inside", ticklen=9, tickcolor="white", tickwidth=2, tickfont=dict(size=24, color="black", family=FONT)))))
T(3640, 250.5, "Percent", 26); T(3640, 285.6, "Expressed", 26)
T(3640, 559, "Average", 26); T(3640, 592, "Expression", 26)
for i, p in enumerate(B_LEGEND_PCT):
    yy = 329 + i * 43.7
    dot(3663, yy, 2.5 + .385 * p, "black")
    T(3698, yy, str(p), 22)

# ================= C =================
def c_panel(x0, x1, y0, y1, cols, rows, sizes, z, boxes, title, tx, barx, font, standoff):
    gap = .4
    edges, zz, centers, side = [0.0], [], [], []
    pos, k = 0.0, 0
    for gi, sz in enumerate(sizes):
        if gi:
            pos += gap
            edges.append(pos)
            zz.append([None] * len(cols))
        start = pos
        for _ in range(sz):
            centers.append(pos + .5)
            zz.append(z[k]); k += 1
            pos += 1
            edges.append(pos)
        side.append((start, pos, SIDE_COLORS[gi]))
    xe = list(np.arange(len(cols) + 1) - .5)
    xc, yc = new_axes(x0, x1, y0, y1,
        dict(range=[-.5, len(cols) - .5], showticklabels=True, tickvals=list(range(len(cols))), ticktext=cols, tickangle=90,
             ticks="outside", ticklen=14, tickcolor="rgba(0,0,0,0)", tickfont=dict(size=34, color="black")),
        dict(range=[pos, 0], side="right", showticklabels=True, tickvals=centers, ticktext=rows,
             ticks="outside", ticklen=standoff, tickcolor="rgba(0,0,0,0)", tickfont=dict(size=font, color="black")))
    traces.append(go.Heatmap(x=xe, y=edges, z=zz, xaxis=xc, yaxis=yc, zmin=-1, zmax=1, colorscale=C_SCALE, showscale=False, hoverongaps=False))
    for a, b, col in side:
        shapes.append(dict(type="rect", xref="paper", yref=yc, x0=PX(barx[0]), x1=PX(barx[1]), y0=a, y1=b, fillcolor=col, line=dict(width=0)))
    for r, c in boxes:
        shapes.append(dict(type="rect", xref=xc, yref=yc, x0=c - .5, x1=c + .5, y0=centers[r] - .5, y1=centers[r] + .5,
                           line=dict(color="black", width=2), fillcolor="rgba(0,0,0,0)", layer="above"))
    T(tx, 1292, title, 56, "center")

c_panel(92, 449, 1338.4, 2152, CD4_COLS, CD4_ROWS, CD4_GROUP_SIZES, CD4_Z, CD4_BOXES, "CD4", 271, (42, 78), 36, 8)
c_panel(1120.7, 1324, 1338.4, 2155, CD8_COLS, CD8_ROWS, CD8_GROUP_SIZES, CD8_Z, CD8_BOXES, "CD8", 1219, (1076, 1108), 33, 6)

yedges = list(np.round(np.arange(1, -1.01, -.1), 1))
xl, yl = new_axes(1836, 1870, 1333, 1842,
    dict(range=[0, 1]),
    dict(range=[-1, 1], side="right", showticklabels=True, tickvals=[-1,-.5,0,.5,1], ticktext=["−1","−0.5","0","0.5","1"],
         ticks="outside", ticklen=14, tickcolor="rgba(0,0,0,0)", tickfont=dict(size=26, color="black")))
traces.append(go.Heatmap(x=[0, 1], y=yedges, z=[[v] for v in C_LEGEND_VALUES], xaxis=xl, yaxis=yl, zmin=-1, zmax=1,
                         colorscale=C_SCALE, showscale=False, hoverongaps=False))
for i, (nm, col) in enumerate(zip(GROUP_NAMES, GROUP_SWATCH)):
    rect(1835, 1873 + i * 39, 1873, 1912 + i * 39, col)
    T(1881, 1892.5 + i * 39, nm, 26)

# ================= D =================
edges, centers, pos = [0.0], [], 0.0
for i, w in enumerate(D_CELLS):
    centers.append(pos + w / 2)
    pos += w
    edges.append(pos)
    if i < len(D_CELLS) - 1:
        pos += 3
        edges.append(pos)
rows_lv = D_LEVELS.split()
zd = []
for row in rows_lv:
    zr = []
    for i, ch in enumerate(row):
        zr.append(-2.25 + .45 * int(ch))
        if i < len(row) - 1:
            zr.append(None)
    zd.append(zr)
xd, yd = new_axes(2339.5, 3364.4, 1332, 2210,
    dict(range=[0, pos]),
    dict(range=[110.5, -.5], showticklabels=True, tickvals=list(range(111)), ticktext=D_GENES, ticks="outside", ticklen=13,
         tickcolor="rgba(0,0,0,0)", tickfont=dict(size=9, color="#444")))
traces.append(go.Heatmap(x=edges, y=list(np.arange(112) - .5), z=zd, xaxis=xd, yaxis=yd, zmin=-2.5, zmax=2.5, colorscale="Viridis", hoverongaps=False,
    showscale=True, colorbar=dict(x=PX(3403), xanchor="left", y=PY(2171), yanchor="bottom", len=196, lenmode="pixels", thickness=39, thicknessmode="pixels",
        xpad=0, ypad=0, outlinewidth=0, tickvals=[-2,-1,0,1,2], ticks="inside", ticklen=9, tickcolor="white", tickwidth=2, tickfont=dict(size=26, color="black", family=FONT))))
for i in range(len(D_CELLS) - 1):
    shapes.append(dict(type="rect", xref=xd, yref="paper", x0=edges[2*i+1], x1=edges[2*i+2], y0=PY(2210), y1=PY(1332), fillcolor="#7f7f7f", line=dict(width=0), layer="above"))
xt, yt = new_axes(2339.5, 3364.4, 1299, 1318, dict(range=[0, pos]), dict(range=[0, 1]))
traces.append(go.Bar(x=centers, y=[1] * 13, width=D_CELLS, marker=dict(color=CL_COLORS, line=dict(width=0)), xaxis=xt, yaxis=yt))
T(3403, 1357, "Identity", 26)
T(3403, 1952, "Expression", 26)
for i, (c, col) in enumerate(zip(CLUSTERS, CL_COLORS)):
    yy = 1399 + i * 39.3
    dot(3422, yy, 11, col)
    T(3455, yy, c, 23)

# ================= E =================
for i in range(13):
    x0, x1 = E_PANEL_X[i]
    tk = E_TICKS[i]
    step = tk[1] - tk[0]
    minors = [t + step / 2 for t in tk] + [tk[0] - step / 2]
    xe_, ye_ = new_axes(x0, x1, 2405, 2741.4,
        dict(range=[-.6, 1.6], showline=True, mirror=True, linecolor="#555", linewidth=1.5, showgrid=True, gridcolor="#efefef", gridwidth=1,
             ticks="outside", ticklen=6, tickcolor="#444", showticklabels=True, tickvals=[0, 1], ticktext=KN, tickfont=dict(size=22, color="#333")),
        dict(range=list(E_YRANGE[i]), showline=True, mirror=True, linecolor="#555", linewidth=1.5, showgrid=True, gridcolor="#ebebeb", gridwidth=2,
             ticks="outside", ticklen=4, tickcolor="#444", showticklabels=True, tickvals=tk, ticktext=E_LABELS[i], tickfont=dict(size=22, color="#333"),
             minor=dict(tickmode="array", tickvals=minors, showgrid=True, gridcolor="#f3f3f3", gridwidth=1.5, ticks="")))
    for j, b in enumerate((E_BOX_K[i], E_BOX_N[i])):
        traces.append(go.Box(x=[j], lowerfence=[b[0]], q1=[b[1]], median=[b[2]], q3=[b[3]], upperfence=[b[4]], width=.76, whiskerwidth=0,
                             fillcolor=KN_COLORS[j], line=dict(color="#222", width=1.5), xaxis=xe_, yaxis=ye_, boxpoints=False))
        traces.append(go.Scatter(x=[j - .38, j + .38], y=[b[2], b[2]], mode="lines", line=dict(color="#333", width=4), xaxis=xe_, yaxis=ye_))
    T((x0 + x1) / 2, 2383, CLUSTERS[i], 28, "center")
    T((x0 + x1) / 2, 2419, "p = " + E_P[i], 20, "center")
T(36, 2570, "Percent in CD4+ and CD8+ T cells (%)", 22, "center", angle=-90)

# ================= F =================
xf, yf = new_axes(83.5, 537.5, 2934, 3824,
    dict(range=[-.6, 5.6], showline=True, mirror=True, linecolor="#444", linewidth=1.5, showgrid=True, gridcolor="#ebebeb", gridwidth=2,
         ticks="outside", ticklen=3, tickcolor="#444", showticklabels=True, tickvals=list(range(6)), ticktext=F_SAMPLES, tickfont=dict(size=22, color="#4d4d4d")),
    dict(range=[-4.9, 104.9], showline=True, mirror=True, linecolor="#444", linewidth=1.5, showgrid=True, gridcolor="#ebebeb", gridwidth=2,
         ticks="outside", ticklen=6, tickcolor="#444", showticklabels=True, tickvals=[0,25,50,75,100], tickfont=dict(size=25, color="#4d4d4d"),
         minor=dict(tickmode="array", tickvals=[12.5,37.5,62.5,87.5], showgrid=True, gridcolor="#f3f3f3", gridwidth=1.5, ticks="")))
for c in range(12, -1, -1):
    traces.append(go.Bar(x=list(range(6)), y=[F_VALUES[s][c] for s in F_SAMPLES], width=.5, marker=dict(color=CL_COLORS[c], line=dict(width=0)), xaxis=xf, yaxis=yf))
T(18, 3380, "Percent in CD4+ and CD8+ T cells (%)", 29, "center", angle=-90)
for i, (c, col) in enumerate(zip(CLUSTERS, CL_COLORS)):
    yy = 3115 + i * 47.7
    rect(553, yy - 22, 597, yy + 22, col)
    T(608, yy, c, 24)

# ================= G =================
G_COLS = [(738.7,943.5),(972.5,1176.5),(1207,1410),(1443.5,1647.5),(1677,1881),(1926.8,2130),(2160,2364.5),(2396.7,2601),(2646,2850.5),(2880,3084)]
G_ROW_Y = [(2938,3178.5),(3264.7,3506),(3592,3832.6)]
for r, genes in enumerate(G_ROWS):
    for c, gene in enumerate(genes):
        x0, x1 = G_COLS[c]; y0, y1 = G_ROW_Y[r]
        K = G_K[gene]
        top = K[-1][0]
        tk = G_TICKS[gene]
        lab = [("%.1f" % t) if any(v % 1 for v in tk) else str(t) for t in tk]
        xg, yg = new_axes(x0, x1, y0, y1,
            dict(range=[-1.342, 1.342], showline=True, linecolor="black", linewidth=2, showticklabels=(r < 2), tickvals=[-.33, .33], ticktext=KN,
                 tickfont=dict(size=22, color="black"), minor=dict(tickmode="array", tickvals=[0], ticks="outside", ticklen=6, tickcolor="black", tickwidth=2)),
            dict(range=[-.048 * top, 1.048 * top], showline=True, linecolor="black", linewidth=2, ticks="outside", ticklen=5, tickwidth=2, tickcolor="black",
                 showticklabels=True, tickvals=tk, ticktext=lab, tickfont=dict(size=20, color="black")))
        if r == 2:
            mid = (x0 + x1) / 2
            T(mid - 25, 3845, KN[0], 20, "center")
            T(mid + 25, 3845, KN[1], 20, "center")
        ys = [p[0] for p in K]; ws = [p[1] for p in K]
        traces.append(go.Scatter(x=[0, -ws[0] / 2] + [-w for w in ws] + [0] * len(ys), y=[0, 0] + ys + ys[::-1], xaxis=xg, yaxis=yg, mode="lines",
            line=dict(color="#333", width=1.5, shape="spline", smoothing=.7), fill="toself", fillcolor=KN_COLORS[0]))
        if gene in G_N:
            N = G_N[gene]
            ys = [p[0] for p in N]; ws = [p[1] for p in N]
            traces.append(go.Scatter(x=[0, ws[0] / 2] + ws + [0] * len(ys), y=[0, 0] + ys + ys[::-1], xaxis=xg, yaxis=yg, mode="lines",
                line=dict(color="#333", width=1.5, shape="spline", smoothing=.7), fill="toself", fillcolor=KN_COLORS[1]))
        else:
            traces.append(go.Scatter(x=[0, 1], y=[0, 0], xaxis=xg, yaxis=yg, mode="lines", line=dict(color="#444", width=2)))
        traces.append(go.Scatter(x=[0, 0], y=[0, top], xaxis=xg, yaxis=yg, mode="lines", line=dict(color="#333", width=1.5)))
        T((x0 + x1) / 2, [2913.4, 3240, 3567.5][r], gene, 25, "center")
T(694, 3383, "Expression", 27, "center", angle=-90)

# ================= H =================
xh, yh = new_axes(3201.4, 3763, 2929, 3819,
    dict(range=[-.574, 12.07], showline=True, linecolor="black", linewidth=2, ticks="outside", ticklen=5, tickcolor="black", showticklabels=True,
         tickvals=[0,3,6,9,12], tickfont=dict(size=13, color="#444")),
    dict(range=[16.64, -.647], showline=True, linecolor="black", linewidth=2))
traces.append(go.Bar(y=list(range(17)), x=H_RATIO, orientation="h", width=.85, xaxis=xh, yaxis=yh,
    marker=dict(color=H_PADJ, cmin=0, cmax=.0433, colorscale=[[0,"#B87A2B"],[1,"#F2F2F2"]], line=dict(width=0), showscale=True,
        colorbar=dict(x=PX(3683.6), xanchor="left", y=PY(3479), yanchor="bottom", len=150, lenmode="pixels", thickness=30, thicknessmode="pixels", xpad=0, ypad=0,
            outlinewidth=0, tickvals=[.01,.02,.03,.04], tickformat=".2f", ticks="inside", ticklen=6, tickcolor="white", tickfont=dict(size=14, color="black", family=FONT)))))
traces.append(go.Scatter(x=[0] * 17, y=list(range(17)), text=H_TERMS, mode="text", textposition="middle right",
    textfont=dict(size=20, color="black", family=FONT), xaxis=xh, yaxis=yh, cliponaxis=False))
T(3471.5, 2911, "C3 (K vs N)", 26, "center")
T(3482, 3846, "GeneRatio/BgRatio", 15, "center")
T(3171.5, 3396.5, "KEGG pathways of up−regulated genes", 27, "center", angle=-90)
T(3684, 3310, "p.adjust", 18)

fig = go.Figure(data=traces)
fig.update_layout(**axes)
fig.update_layout(width=W, height=H, margin=dict(l=0, r=0, t=0, b=0, pad=0, autoexpand=False), autosize=False, showlegend=False,
                  paper_bgcolor="white", plot_bgcolor="rgba(0,0,0,0)", barmode="stack", font=dict(family=FONT),
                  shapes=shapes, annotations=annos, hovermode=False)
fig.write_html("out.html", post_script="document.body.style.margin='0';", config={"displayModeBar": False})
